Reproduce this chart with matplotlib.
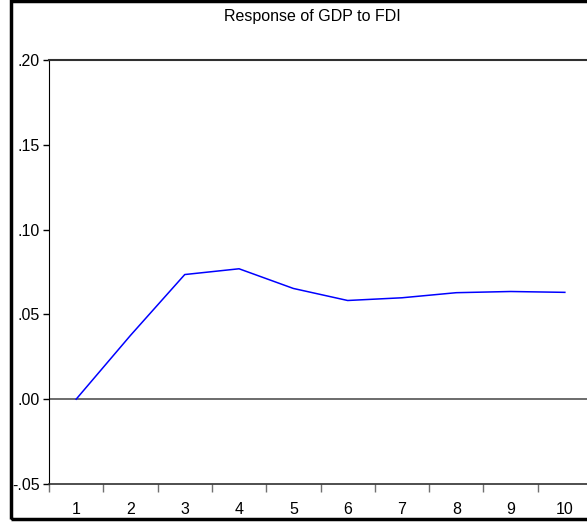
import numpy as np
import matplotlib
matplotlib.use("Agg")
from matplotlib import pyplot as plt
from matplotlib.patches import Rectangle

# response of GDP to a FDI shock, periods 1..10
periods = [1, 2, 3, 4, 5, 6, 7, 8, 9, 10]
response = [0.0, 0.0376, 0.0735, 0.0769, 0.0653, 0.0582, 0.0598, 0.0628, 0.0635, 0.0630]

y_ticks = [-0.05, 0.00, 0.05, 0.10, 0.15, 0.20]
y_labels = ["-.05", ".00", ".05", ".10", ".15", ".20"]

plt.rcParams['font.family'] = ['Liberation Sans', 'DejaVu Sans']

fig = plt.figure(figsize=(5.87, 5.23), dpi=100)
ax = fig.add_axes([49/587, 1 - 484/523, 543/587, 424/523])

ax.axhline(0, color="#606060", lw=1.3, zorder=1)
ax.plot(periods, response, color="#0000ff", lw=1.1, zorder=2)

ax.set_xlim(0.5, 10.5)
ax.set_ylim(-0.05, 0.20)

# labels at the periods, tick marks between them
ax.set_xticks(periods)
ax.set_xticklabels([str(p) for p in periods])
ax.set_xticks(np.arange(0.5, 10.5, 1.0), minor=True)
ax.tick_params(axis="x", which="major", length=0, pad=13, labelsize=11.5)
ax.tick_params(axis="x", which="minor", length=6, width=1, color="#707070", direction="out")

ax.set_yticks(y_ticks)
ax.set_yticklabels(y_labels)
ax.tick_params(axis="y", length=4, width=1, pad=2.5, labelsize=11.5, direction="out")

ax.spines["right"].set_visible(False)
ax.spines["top"].set_linewidth(1.5)
ax.spines["top"].set_color("#303030")
ax.spines["bottom"].set_color("#303030")
ax.spines["bottom"].set_linewidth(1.2)

fig.text(312/587, 1 - 17/523, "Response of GDP to FDI", ha="center", va="center", fontsize=11.5)

# outer frame (cut off on the right like the original)
fig.patches.append(Rectangle((11/587, 1 - 519/523), 1.2, 518/523, transform=fig.transFigure,
                             fill=False, lw=2.5, edgecolor="black"))

fig.savefig("out.png", dpi=100)
